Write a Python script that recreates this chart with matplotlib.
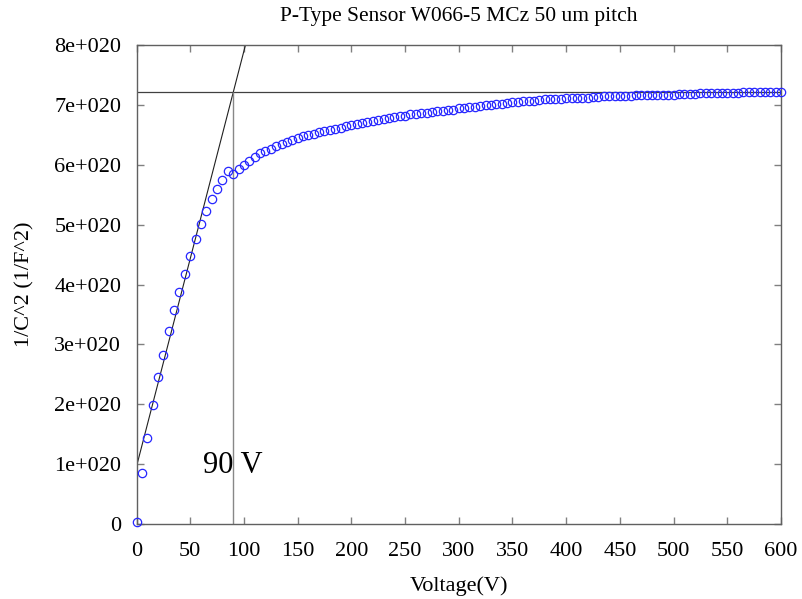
#!/usr/bin/env python3
# -*- coding: utf-8 -*-

import matplotlib
matplotlib.use("Agg")
import matplotlib.pyplot as plt
import matplotlib.ticker as mtick

plt.rcParams['font.family'] = ['Liberation Serif', 'DejaVu Serif']

# mert pontok: feszultseg (V) es 1/C^2 (1e20 1/F^2 egysegben)
voltage = [
    0, 5, 10, 15, 20, 25, 30, 35, 40, 45, 50, 55, 60, 65, 70, 75, 80, 85, 90, 95,
    100, 105, 110, 115, 120, 125, 130, 135, 140, 145, 150, 155, 160, 165, 170, 175,
    180, 185, 190, 195, 200, 205, 210, 215, 220, 225, 230, 235, 240, 245, 250, 255,
    260, 265, 270, 275, 280, 285, 290, 295, 300, 305, 310, 315, 320, 325, 330, 335,
    340, 345, 350, 355, 360, 365, 370, 375, 380, 385, 390, 395, 400, 405, 410, 415,
    420, 425, 430, 435, 440, 445, 450, 455, 460, 465, 470, 475, 480, 485, 490, 495,
    500, 505, 510, 515, 520, 525, 530, 535, 540, 545, 550, 555, 560, 565, 570, 575,
    580, 585, 590, 595, 600,
]
inv_c2 = [
    0.03, 0.85, 1.43, 1.99, 2.45, 2.83, 3.23, 3.58, 3.87, 4.17, 4.48, 4.76, 5.01, 5.23,
    5.42, 5.59, 5.75, 5.90, 5.85, 5.93, 6.00, 6.07, 6.13, 6.19, 6.23, 6.27, 6.31, 6.35,
    6.38, 6.42, 6.45, 6.48, 6.50, 6.52, 6.54, 6.56, 6.58, 6.60, 6.62, 6.64, 6.66, 6.68,
    6.70, 6.71, 6.73, 6.75, 6.76, 6.78, 6.80, 6.81, 6.82, 6.84, 6.85, 6.86, 6.87, 6.88,
    6.89, 6.90, 6.91, 6.92, 6.94, 6.95, 6.96, 6.97, 6.98, 6.99, 7.00, 7.01, 7.02, 7.03,
    7.04, 7.05, 7.06, 7.07, 7.07, 7.08, 7.09, 7.09, 7.10, 7.10, 7.11, 7.11, 7.12, 7.12,
    7.12, 7.13, 7.13, 7.14, 7.14, 7.14, 7.15, 7.15, 7.15, 7.16, 7.16, 7.16, 7.16, 7.17,
    7.17, 7.17, 7.17, 7.18, 7.18, 7.18, 7.18, 7.19, 7.19, 7.19, 7.19, 7.20, 7.20, 7.20,
    7.20, 7.21, 7.21, 7.21, 7.21, 7.22, 7.22, 7.22, 7.22,
]
SCALE = 1e20

# illesztett egyenes es a plato
fit_intercept = 0.96
fit_slope = 0.0694
plateau = 7.21
depletion_v = 90
depletion_label = "90 V"

yticks = [0, 1, 2, 3, 4, 5, 6, 7, 8]
xticks = [0, 50, 100, 150, 200, 250, 300, 350, 400, 450, 500, 550, 600]


def yFormatter(v, pos):
    n = int(round(v / SCALE))
    if n == 0:
        return "0"
    return "%de+020" % n


fig = plt.figure(figsize=(8.03, 5.99), dpi=100)
ax = fig.add_axes([136.5 / 803, 75 / 599, 644.5 / 803, 479 / 599])

ax.plot(voltage, [v * SCALE for v in inv_c2], linestyle='none', marker='o',
        markersize=6, markerfacecolor='none', markeredgecolor='#2626ff',
        markeredgewidth=0.9, clip_on=False, zorder=3)

ax.axline((0, fit_intercept * SCALE), slope=fit_slope * SCALE, color='#202020', lw=0.8)
ax.axhline(plateau * SCALE, color='#404040', lw=0.9)
ax.vlines(depletion_v, 0, plateau * SCALE, color='#888888', lw=1.0)
ax.text(62, 0.85 * SCALE, depletion_label, fontsize=22, ha='left', va='baseline')

ax.set_xlim(0, 600)
ax.set_ylim(0, 8 * SCALE)
ax.set_xticks(xticks)
ax.set_yticks([t * SCALE for t in yticks])
ax.yaxis.set_major_formatter(mtick.FuncFormatter(yFormatter))

for sp in ax.spines.values():
    sp.set_color('#606060')
    sp.set_linewidth(1.0)
ax.tick_params(direction='in', length=5, width=1, color='#808080',
               top=True, right=True, labelsize=16)
ax.tick_params(axis='x', pad=13)
ax.tick_params(axis='y', pad=11)

ax.set_title("P-Type Sensor W066-5 MCz 50 um pitch", fontsize=15.5, pad=17)
ax.set_xlabel("Voltage(V)", fontsize=16, labelpad=11)
ax.set_ylabel("1/C^2 (1/F^2)", fontsize=16, labelpad=14)

fig.savefig("out.png", dpi=100)
